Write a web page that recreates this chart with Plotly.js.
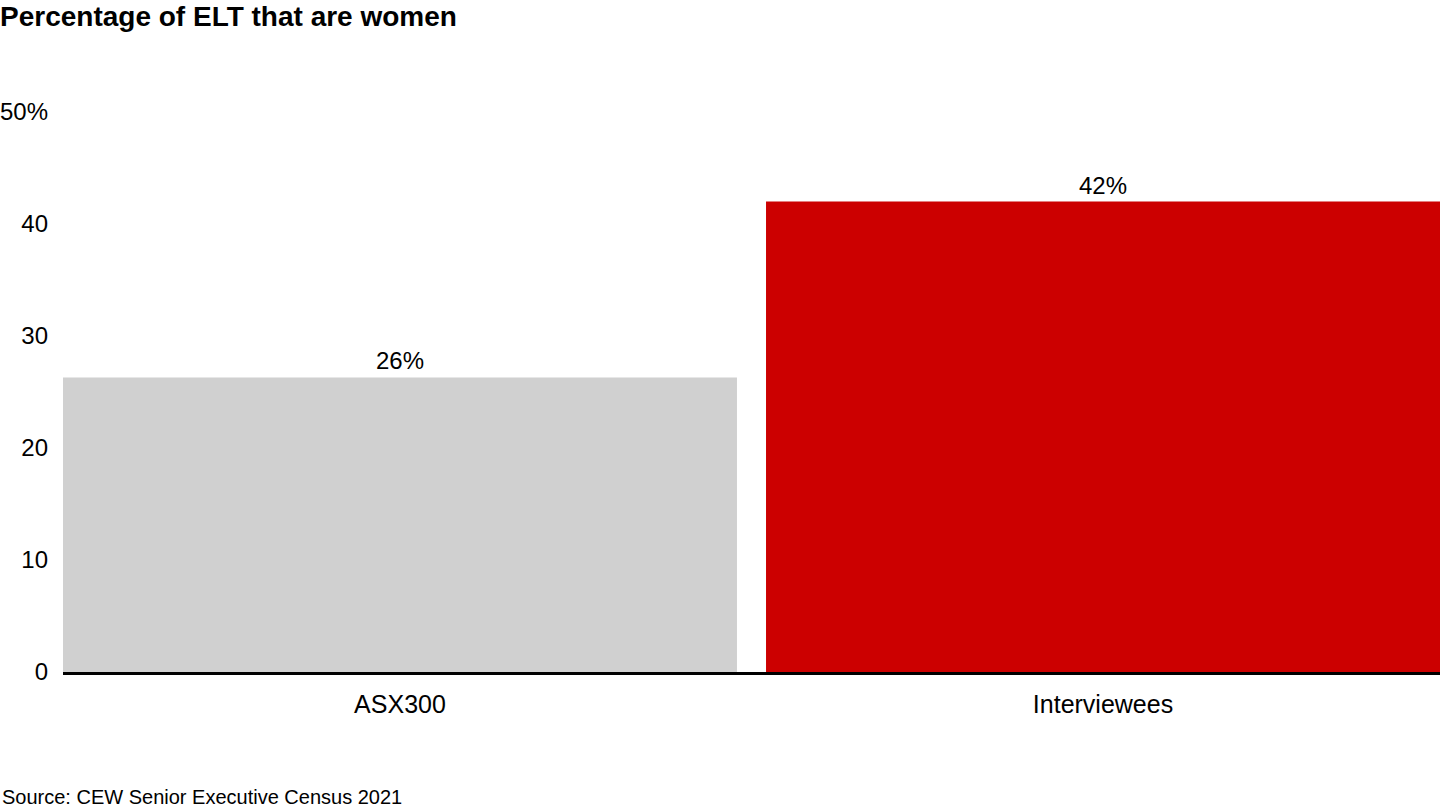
<!DOCTYPE html>
<html>
<head>
<meta charset="utf-8">
<script src="https://cdn.plot.ly/plotly-3.0.1.min.js"></script>
<style>html,body{margin:0;padding:0;background:#fff;}#chart{width:1440px;height:810px;}</style>
</head>
<body>
<div id="chart"></div>
<script>
const categories = ["ASX300", "Interviewees"];
const values = [26.3, 42];
const valueLabels = ["26%", "42%"];
const barColors = ["#d0d0d0", "#cc0000"];
const yTickVals = [0, 10, 20, 30, 40, 50];
const yTickText = ["0", "10", "20", "30", "40", "50%"];
const titleText = "Percentage of ELT that are women";
const sourceText = "Source: CEW Senior Executive Census 2021";

const FONT = "Arial, 'Liberation Sans', sans-serif";
const w = 0.9587;

Plotly.newPlot("chart", [{
  type: "bar",
  x: [0, 1],
  y: values,
  width: [w, w],
  marker: {color: barColors, line: {width: 0}},
  text: valueLabels,
  textposition: "outside",
  cliponaxis: false,
  textfont: {family: FONT, size: 24, color: "#000"},
  hoverinfo: "skip"
}], {
  width: 1440, height: 810,
  margin: {l: 63, r: 0, t: 112, b: 138, pad: 0},
  paper_bgcolor: "#fff", plot_bgcolor: "#fff",
  showlegend: false,
  title: {text: "<b>" + titleText + "</b>", x: 0, xref: "container", xanchor: "left",
          y: 1, yref: "container", yanchor: "top", pad: {t: 6, l: 0},
          font: {family: FONT, size: 28, color: "#000"}},
  xaxis: {
    range: [-w / 2, 1 + w / 2],
    tickvals: [0, 1], ticktext: categories,
    showgrid: false, zeroline: false,
    showline: true, linecolor: "#000", linewidth: 3,
    ticks: "", ticklabelstandoff: 8,
    tickfont: {family: FONT, size: 25, color: "#000"},
    fixedrange: true
  },
  yaxis: {
    range: [0, 50],
    tickvals: yTickVals, ticktext: yTickText,
    showgrid: false, zeroline: false, showline: false,
    ticks: "", ticklabelstandoff: 14,
    tickfont: {family: FONT, size: 24, color: "#000"},
    fixedrange: true
  },
  annotations: [{
    text: sourceText, xref: "paper", yref: "paper",
    x: -63 / 1377, y: -138 / 560, xanchor: "left", yanchor: "bottom",
    showarrow: false, font: {family: FONT, size: 20, color: "#000"}
  }]
}, {displayModeBar: false, staticPlot: true});
</script>
</body>
</html>
